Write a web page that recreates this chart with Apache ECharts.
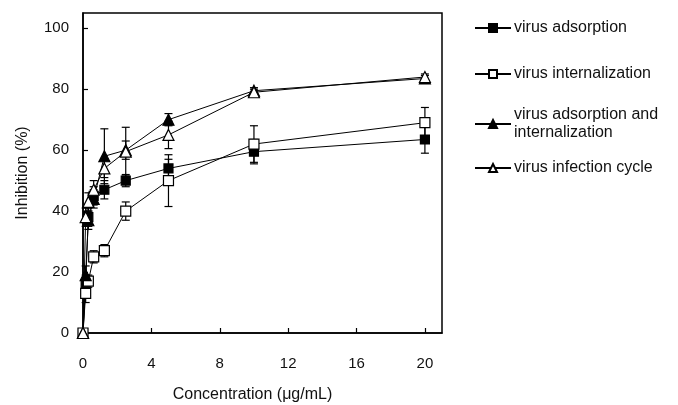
<!DOCTYPE html>
<html>
<head>
<meta charset="utf-8">
<title>Inhibition</title>
<script src="https://cdn.jsdelivr.net/npm/echarts@6/dist/echarts.min.js"></script>
<style>
	html, body { margin: 0; padding: 0; background: #fff; }
	#main { width: 678px; height: 405px; }
</style>
</head>
<body>
<div id="main"></div>
<script>
// 数据
var conc = [0, 0.156, 0.3125, 0.625, 1.25, 2.5, 5, 10, 20];
var adsorption = [0, 16, 38, 45, 47, 50, 54, 59.5, 63.5];
var adsorptionErr = [0, 3, 3, 3, 3, 2, 3, 4, 4.5];
var internalization = [0, 13, 17, 25, 27, 40, 50, 62, 69];
var internalizationErr = [0, 3, 2, 2, 2, 3, 8.5, 6, 5];
var adsInt = [0, 19, 37, 44, 58, 60, 70, 79.5, 83.5];
var adsIntErr = [0, 3, 3, 3, 9, 3, 2, 1, 1];
var cycle = [0, 38, 43, 47, 54, 59.5, 65, 79, 84];
var cycleErr = [0, 3, 3, 3, 3, 8, 4.5, 1, 1];
var names = ['virus adsorption', 'virus internalization', 'virus adsorption and internalization', 'virus infection cycle'];

var font = 'Liberation Sans, Arial, sans-serif';

function pairs(ys) {
	var arr = [];
	for (var i = 0; i < conc.length; i++) {
		arr.push([conc[i], ys[i]]);
	}
	return arr;
}

function errData(ys, es) {
	var arr = [];
	for (var i = 0; i < conc.length; i++) {
		arr.push([conc[i], ys[i], es[i]]);
	}
	return arr;
}

// 误差线
function errorSeries(ys, es) {
	return {
		type: 'custom',
		z: 1,
		silent: true,
		encode: { x: 0, y: 1 },
		data: errData(ys, es),
		renderItem: function(params, api) {
			var x = api.value(0), y = api.value(1), e = api.value(2);
			if (!e) return;
			var hi = api.coord([x, y + e]);
			var lo = api.coord([x, y - e]);
			var w = 4;
			var st = { stroke: '#000', lineWidth: 1.2 };
			return {
				type: 'group',
				children: [
					{ type: 'line', shape: { x1: hi[0], y1: hi[1], x2: lo[0], y2: lo[1] }, style: st },
					{ type: 'line', shape: { x1: hi[0] - w, y1: hi[1], x2: hi[0] + w, y2: hi[1] }, style: st },
					{ type: 'line', shape: { x1: lo[0] - w, y1: lo[1], x2: lo[0] + w, y2: lo[1] }, style: st }
				]
			};
		}
	};
}

function lineSeries(name, ys, symbol, fill, size) {
	return {
		name: name,
		type: 'line',
		z: 3,
		data: pairs(ys),
		symbol: symbol,
		symbolSize: size,
		showAllSymbol: true,
		lineStyle: { color: '#000', width: 1 },
		itemStyle: { color: fill, borderColor: '#000', borderWidth: 1.2 }
	};
}

function legendItem(name, top) {
	return {
		data: [name],
		orient: 'vertical',
		left: 474,
		top: top,
		itemWidth: 36,
		itemHeight: 10,
		itemGap: 0,
		padding: 0,
		selectedMode: false,
		formatter: function(n) {
			if (n === names[2]) return 'virus adsorption and\ninternalization';
			return n;
		},
		textStyle: { fontFamily: font, fontSize: 16, color: '#111', lineHeight: 18, padding: [0, 0, 0, -2] }
	};
}

var myChart = echarts.init(document.getElementById('main'));

var option = {
	animation: false,
	backgroundColor: '#fff',
	grid: {
		left: 83,
		right: 236,
		top: 13,
		bottom: 72,
		outerBoundsMode: 'none',
		show: true,
		borderColor: '#000',
		borderWidth: 1.5
	},
	legend: [
		legendItem(names[0], 19),
		legendItem(names[1], 65),
		legendItem(names[2], 106),
		legendItem(names[3], 159)
	],
	xAxis: {
		type: 'value',
		min: 0,
		max: 21,
		interval: 4,
		name: 'Concentration (μg/mL)',
		nameLocation: 'middle',
		nameGap: 54,
		nameTextStyle: { fontFamily: font, fontSize: 16, color: '#111', padding: [0, 20, 0, 0] },
		axisLine: { lineStyle: { color: '#000', width: 1.5 } },
		axisTick: { inside: true, length: 5, lineStyle: { color: '#000', width: 1.2 } },
		axisLabel: { fontFamily: font, fontSize: 15, color: '#111', margin: 23, showMaxLabel: false },
		splitLine: { show: false }
	},
	yAxis: {
		type: 'value',
		min: 0,
		max: 105,
		interval: 20,
		name: 'Inhibition (%)',
		nameLocation: 'middle',
		nameGap: 52,
		nameTextStyle: { fontFamily: font, fontSize: 16, color: '#111' },
		axisLine: { lineStyle: { color: '#000', width: 1.5 } },
		axisTick: { inside: true, length: 5, lineStyle: { color: '#000', width: 1.2 } },
		axisLabel: { fontFamily: font, fontSize: 15, color: '#111', margin: 14, showMaxLabel: false },
		splitLine: { show: false }
	},
	series: [
		errorSeries(adsorption, adsorptionErr),
		errorSeries(internalization, internalizationErr),
		errorSeries(adsInt, adsIntErr),
		errorSeries(cycle, cycleErr),
		lineSeries(names[0], adsorption, 'rect', '#000', 9),
		lineSeries(names[1], internalization, 'rect', '#fff', 10),
		lineSeries(names[2], adsInt, 'triangle', '#000', 11),
		lineSeries(names[3], cycle, 'triangle', '#fff', 11)
	]
};

myChart.setOption(option);
</script>
</body>
</html>
